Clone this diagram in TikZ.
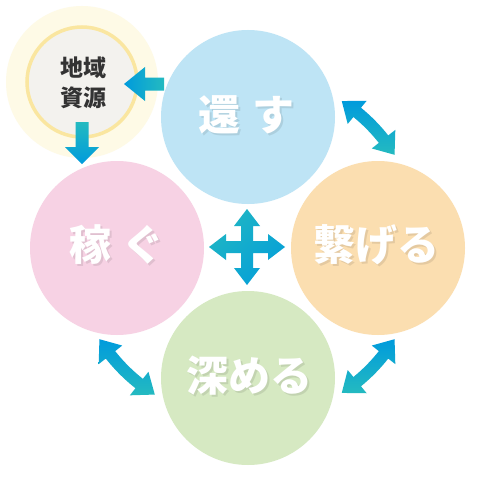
\documentclass[tikz,border=0pt]{standalone}
\usepackage{fontspec}
\newfontfamily\cjk{Noto Sans CJK JP}
\usetikzlibrary{calc,shadings}
\definecolor{cblue}{RGB}{190,228,245}
\definecolor{cpink}{RGB}{247,210,228}
\definecolor{corange}{RGB}{251,222,176}
\definecolor{cgreen}{RGB}{214,233,194}
\definecolor{cpale}{RGB}{254,250,230}
\definecolor{cgray}{RGB}{243,242,238}
\definecolor{cring}{RGB}{250,230,160}
\definecolor{ablue}{RGB}{0,155,220}
\definecolor{ateal}{RGB}{36,186,192}
\definecolor{tdark}{RGB}{51,51,51}
\tikzset{
  bigcircle/.style={circle, inner sep=0pt, minimum size=174pt},
  bigtext/.style={text=white, font=\cjk\bfseries\fontsize{42}{42}\selectfont, inner sep=0pt},
  shadowtext/.style={text=black, text opacity=0.09, font=\cjk\bfseries\fontsize{42}{42}\selectfont, inner sep=0pt},
}
\newcommand\carrow[2]{%
  \pgfmathsetmacro\ba{#1+6.3}%
  \pgfmathsetmacro\bb{#2-6.3}%
  \shade[top color=ablue, bottom color=ateal]
    ($(ctr)+(\ba:189)$) -- ($(ctr)+(#1:174)$) -- ($(ctr)+(\ba:159)$) -- ($(ctr)+(\ba:168)$)
    arc[start angle=\ba, end angle=\bb, radius=168]
    -- ($(ctr)+(\bb:159)$) -- ($(ctr)+(#2:174)$) -- ($(ctr)+(\bb:189)$) -- ($(ctr)+(\bb:180)$)
    arc[start angle=\bb, end angle=\ba, radius=180] -- cycle;
}
\begin{document}
\begin{tikzpicture}[x=1pt,y=-1pt]
\useasboundingbox (0,0) rectangle (495,495);
\fill[white] (0,0) rectangle (495,495);
\coordinate (ctr) at (247,247);

% resource circle
\node[circle, fill=cpale, minimum size=152pt, inner sep=0pt] (resout) at (82,82) {};
\node[circle, fill=cgray, draw=cring, line width=3.5pt, minimum size=110pt, inner sep=0pt] (resin) at (82,82) {};
\node[text=tdark, font=\cjk\bfseries\fontsize{23}{30}\selectfont, align=center, inner sep=0pt] (restext) at (83,83) {地域\\資源};

% main circles
\node[bigcircle, fill=cblue] (kaesu) at (248,117) {};
\node[bigcircle, fill=cpink] (kasegu) at (117,248) {};
\node[bigcircle, fill=corange] (tsunageru) at (378,248) {};
\node[bigcircle, fill=cgreen] (fukameru) at (248,378) {};

% texts with soft shadow
\node[shadowtext] (kaesuS) at (248.5,117) {還\hspace{12pt}す};
\node[bigtext] (kaesuT) at (246.5,115) {還\hspace{12pt}す};
\node[shadowtext] (kaseguS) at (119,247) {稼\hspace{12pt}ぐ};
\node[bigtext] (kaseguT) at (117,245) {稼\hspace{12pt}ぐ};
\node[shadowtext] (tsunageruS) at (378.5,247) {繋げる};
\node[bigtext] (tsunageruT) at (376.5,245) {繋げる};
\node[shadowtext] (fukameruS) at (251,378) {深める};
\node[bigtext] (fukameruT) at (249,376) {深める};

% arrow from kaesu to resource
\shade[left color=ablue, right color=ateal]
  (164,77.5) -- (145,77.5) -- (145,67) -- (124,84) -- (145,101) -- (145,90.5) -- (164,90.5) -- cycle;
% arrow from resource down to kasegu
\shade[top color=ateal, bottom color=ablue]
  (75.5,122) -- (75.5,147) -- (65,147) -- (82,164) -- (99,147) -- (88.5,147) -- (88.5,122) -- cycle;

% cross arrow
\begin{scope}[shift={(247,247)}]
\shade[upper left=ateal, lower right=ablue, upper right=ablue!50!ateal, lower left=ablue!50!ateal]
  (-6,-21) -- (-13,-21) -- (0,-38) -- (13,-21) -- (6,-21) -- (6,-6)
  -- (21,-6) -- (21,-13) -- (38,0) -- (21,13) -- (21,6) -- (6,6)
  -- (6,21) -- (13,21) -- (0,38) -- (-13,21) -- (-6,21) -- (-6,6)
  -- (-21,6) -- (-21,13) -- (-38,0) -- (-21,-13) -- (-21,-6) -- (-6,-6) -- cycle;
\end{scope}

% curved double arrows
\carrow{-57}{-32}
\carrow{32}{57}
\carrow{122}{148}
\end{tikzpicture}
\end{document}
